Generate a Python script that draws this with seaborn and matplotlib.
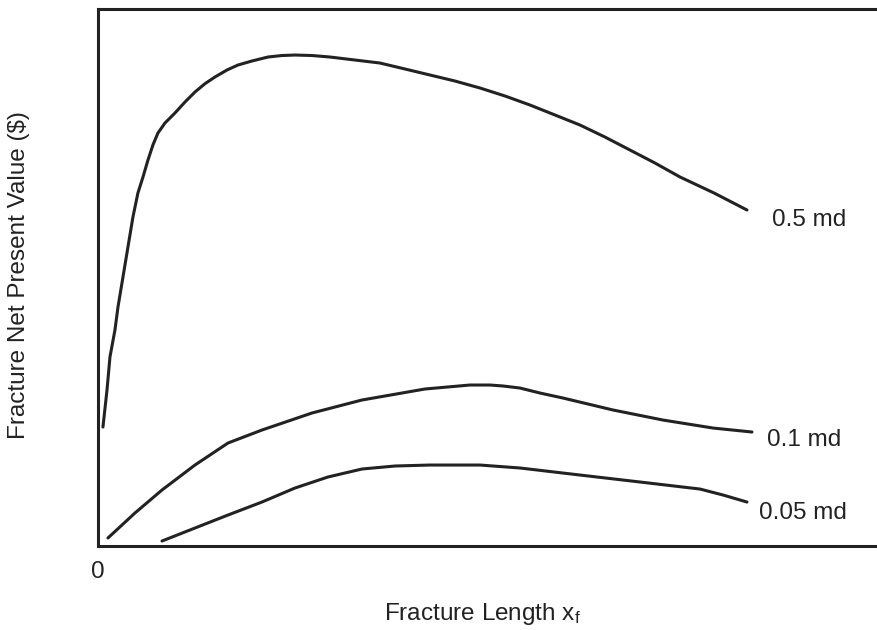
import numpy as np
import pandas as pd
import seaborn as sns
import matplotlib.pyplot as plt

# values (arbitrary units, x: 0-10, y: 0-10)
x_05 = [0.064, 0.116, 0.154, 0.218, 0.257, 0.321, 0.385, 0.449, 0.513, 0.578,
        0.642, 0.706, 0.770, 0.860, 0.988, 1.117, 1.245, 1.374, 1.502, 1.656,
        1.797, 1.977, 2.182, 2.362, 2.529, 2.747, 2.978, 3.299, 3.620, 3.941,
        4.262, 4.583, 4.904, 5.225, 5.546, 5.867, 6.187, 6.508, 6.829, 7.150,
        7.471, 7.908, 8.331]
y_05 = [2.216, 2.905, 3.520, 4.022, 4.451, 5.009, 5.568, 6.127, 6.574, 6.872,
        7.188, 7.470, 7.691, 7.877, 8.063, 8.268, 8.454, 8.610, 8.734, 8.864,
        8.957, 9.032, 9.106, 9.134, 9.143, 9.134, 9.106, 9.050, 8.994, 8.883,
        8.771, 8.659, 8.529, 8.380, 8.212, 8.026, 7.840, 7.616, 7.374, 7.132,
        6.872, 6.574, 6.257]

x_01 = [0.128, 0.475, 0.822, 1.245, 1.669, 2.105, 2.747, 3.389, 4.198, 4.775,
        5.032, 5.199, 5.417, 5.674, 5.969, 6.611, 7.253, 7.895, 8.395]
y_01 = [0.149, 0.615, 1.043, 1.508, 1.918, 2.160, 2.477, 2.719, 2.924, 2.998,
        2.998, 2.980, 2.942, 2.849, 2.756, 2.533, 2.346, 2.197, 2.123]

x_005 = [0.822, 1.245, 1.669, 2.105, 2.529, 2.952, 3.389, 3.813, 4.262, 4.904,
         5.417, 6.187, 6.958, 7.728, 8.023, 8.331]
y_005 = [0.093, 0.335, 0.577, 0.819, 1.080, 1.285, 1.434, 1.490, 1.508, 1.508,
         1.453, 1.322, 1.192, 1.061, 0.950, 0.819]

curve_names = ["0.5 md", "0.1 md", "0.05 md"]

sns.set_style("white")
plt.rcParams["font.family"] = ["Liberation Sans", "DejaVu Sans"]
plt.rcParams["mathtext.fontset"] = "custom"
plt.rcParams["mathtext.rm"] = "Liberation Sans"
plt.rcParams["mathtext.it"] = "Liberation Sans"
plt.rcParams["lines.solid_joinstyle"] = "round"

df = pd.concat([
    pd.DataFrame({"x": x_05, "y": y_05, "perm": curve_names[0]}),
    pd.DataFrame({"x": x_01, "y": y_01, "perm": curve_names[1]}),
    pd.DataFrame({"x": x_005, "y": y_005, "perm": curve_names[2]}),
])

fig = plt.figure(figsize=(8.77, 6.3), dpi=100)
ax = fig.add_axes([0.1117, 0.1333, 0.8883, 0.8524])

ink = "#222222"
fs = 17.5
sns.lineplot(data=df, x="x", y="y", hue="perm", units="perm", estimator=None,
             sort=False, palette=[ink] * 3, linewidth=2.2, legend=False, ax=ax)

ax.set_xlim(0, 10)
ax.set_ylim(0, 10)

for sp in ["left", "top", "bottom"]:
    ax.spines[sp].set_linewidth(2.2)
    ax.spines[sp].set_color(ink)
ax.spines["right"].set_visible(False)

ax.set_xticks([0])
ax.set_xticklabels(["0"])
ax.set_yticks([])
ax.tick_params(axis="x", length=0, pad=11, labelsize=fs, labelcolor=ink)

# curve labels
label_pos = [(8.65, 6.07), (8.59, 1.97), (8.49, 0.61)]
for name, (lx, ly) in zip(curve_names, label_pos):
    ax.text(lx, ly, name, fontsize=fs, color=ink, ha="left", va="center")

ax.set_xlabel(r"Fracture Length x$_\mathrm{f}$", fontsize=fs, color=ink, va="center")
ax.xaxis.set_label_coords(0.494, -0.127)
ax.set_ylabel("Fracture Net Present Value ($)", fontsize=fs, color=ink, va="center")
ax.yaxis.set_label_coords(-0.101, 0.505)

plt.savefig("out.png", dpi=100)
